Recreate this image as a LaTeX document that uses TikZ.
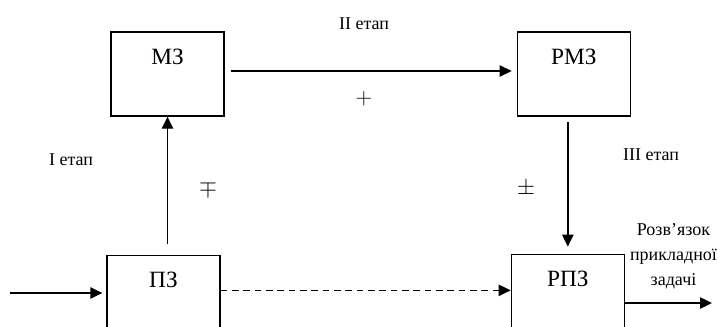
\documentclass[tikz,border=0pt]{standalone}
\usepackage{fontspec}
\setmainfont{Liberation Serif}
\usepackage{tikz}
\usetikzlibrary{arrows.meta, positioning}

\begin{document}
\begin{tikzpicture}[x=0.75pt, y=-0.75pt,
  blk/.style={rectangle, draw, line width=1pt, minimum width=84.75pt,
              inner sep=0pt, text height=24pt, text depth=39pt,
              font=\fontsize{17.5}{20}\selectfont},
  stagetxt/.style={font=\fontsize{13.5}{18.75}\selectfont, align=center, inner sep=0pt},
  signtxt/.style={font=\fontsize{16}{18}\selectfont, inner sep=0pt},
  arrow/.style={-{Triangle[length=9pt, width=8.5pt]}, line width=1pt},
]
  \useasboundingbox (0,0) rectangle (718,326);
  \clip (0,0) rectangle (718,326);

  \node[blk] (mz) at (167.5,74) {МЗ};
  \node[blk, right=219pt of mz] (rmz) {РМЗ};
  \node[blk, below=103.5pt of mz, xshift=-3pt] (pz) {ПЗ};
  \node[blk, below=102.75pt of rmz, xshift=-4.5pt] (rpz) {РПЗ};

  \coordinate (in) at (10,293);
  \coordinate (out) at (712,303);

  % stages and signs
  \node[stagetxt] (st2) at (364,24) {II етап};
  \node[signtxt] (s2) at (364,99) {$+$};
  \node[stagetxt] (st1) at (71,160) {I етап};
  \node[signtxt] (s1) at (208,189) {$\mp$};
  \node[stagetxt] (st3) at (651,155) {III етап};
  \node[signtxt] (s3) at (526,189) {$\pm$};
  \node[stagetxt] (res) at (673.5,256) {Розв’язок\\прикладної\\задачі};

  \draw[arrow] (in) -- ([xshift=-3pt]in -| pz.west);
  \draw[arrow] ([yshift=8.25pt]pz.north -| mz.south) -- (mz.south);
  \draw[arrow] ([xshift=4.5pt, yshift=2.25pt]mz.east) -- ([xshift=-3.75pt, yshift=2.25pt]rmz.west);
  \draw[arrow] ([yshift=-3.75pt]rmz.south -| rpz.north) -- ([yshift=5.25pt]rpz.north);
  \draw[arrow, dash pattern=on 5pt off 3.5pt] ([yshift=5.25pt]pz.east) -- ([yshift=5.25pt]pz.east -| rpz.west);
  \draw[arrow] (out -| rpz.east) -- (out);
\end{tikzpicture}
\end{document}
